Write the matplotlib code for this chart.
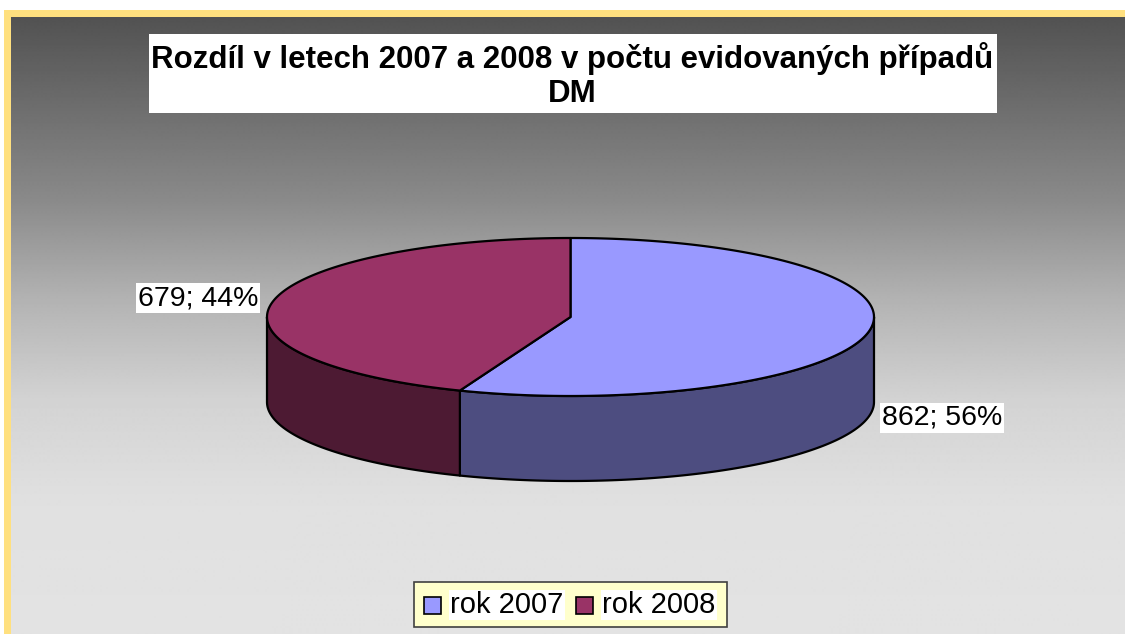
import numpy as np
import matplotlib.pyplot as plt
from matplotlib.patches import Polygon, Rectangle

plt.rcParams['font.family'] = ['Liberation Sans', 'DejaVu Sans']

title = 'Rozdíl v letech 2007 a 2008 v počtu evidovaných případů\nDM'
labels = ['rok 2007', 'rok 2008']
values = [862, 679]
top_colors = ['#9999FF', '#993366']
side_colors = ['#4D4D80', '#4D1A33']

W, H = 1125, 634
fig = plt.figure(figsize=(W / 100, H / 100), dpi=100)
ax = fig.add_axes([0, 0, 1, 1])
ax.set_xlim(0, W)
ax.set_ylim(H, 0)
ax.axis('off')

# background: yellow frame + vertical grey gradient
ax.add_patch(Rectangle((4, 10), W, H, facecolor='#FFE07F', edgecolor='none', zorder=0))
ys = np.arange(17, H + 1)
grey = np.interp(ys, [17, 200, 300, 400, 500, 634], [82, 138, 179, 211, 224, 227]) / 255
grad = np.repeat(grey[:, None], 2, axis=1)
ax.imshow(grad, cmap='gray', vmin=0, vmax=1, extent=[11, W, H, 17],
          aspect='auto', zorder=1, interpolation='bilinear')

# title box
ax.add_patch(Rectangle((149, 34), 848, 79, facecolor='white', edgecolor='none', zorder=2))
ax.text(572, 75.5, title, ha='center', va='center', fontsize=22.5, fontweight='bold',
        linespacing=1.2, zorder=3)

# 3D pie
cx, cy, a, b, depth = 570.5, 317, 303.5, 79, 85
total = sum(values)
fracs = [v / total for v in values]
starts = []
t0 = 90.0
for f in fracs:
    starts.append((t0 - f * 360, t0))
    t0 -= f * 360


def ell(t, dy=0):
    t = np.radians(t)
    return np.column_stack([cx + a * np.cos(t), cy - b * np.sin(t) + dy])


# sides (front half only: t in [-180, 0])
for (lo, hi), col in zip(starts, side_colors):
    for off in (0, -360, 360):
        s, e = max(lo + off, -180), min(hi + off, 0)
        if e > s:
            ts = np.linspace(s, e, 120)
            top = ell(ts)
            bot = ell(ts[::-1], depth)
            ax.add_patch(Polygon(np.vstack([top, bot]), closed=True, facecolor=col,
                                 edgecolor='black', lw=1.6, joinstyle='round', zorder=4))

# top faces
for (lo, hi), col in zip(starts, top_colors):
    ts = np.linspace(lo, hi, 200)
    pts = np.vstack([[cx, cy], ell(ts)])
    ax.add_patch(Polygon(pts, closed=True, facecolor=col, edgecolor='black',
                         lw=1.6, joinstyle='round', zorder=5))

# data labels
for (lo, hi), v, f in zip(starts, values, fracs):
    mid = np.radians((lo + hi) / 2)
    txt = f'{v}; {f * 100:.0f}%'
    if np.cos(mid) < 0:
        x = cx + a * np.cos(mid) - 14
        y = cy - b * np.sin(mid) - 4
        ha = 'right'
    else:
        x = cx + a * np.cos(mid) + 13
        y = cy - b * np.sin(mid) + depth + 1
        ha = 'left'
    ax.text(x, y, txt, ha=ha, va='center', fontsize=20.5, zorder=6,
            bbox=dict(facecolor='white', edgecolor='none', pad=1.5))

# legend
ax.add_patch(Rectangle((414, 582), 313, 45, facecolor='#FFFFCC', edgecolor='#404040',
                       lw=1.2, zorder=6))
lx = [424, 576]
for x, lab, col in zip(lx, labels, top_colors):
    ax.add_patch(Rectangle((x, 597), 17, 17, facecolor=col, edgecolor='black', lw=1.2, zorder=7))
    ax.text(x + 26, 605, lab, ha='left', va='center', fontsize=21, zorder=7,
            bbox=dict(facecolor='white', edgecolor='none', pad=1))

fig.savefig('out.png', dpi=100)
